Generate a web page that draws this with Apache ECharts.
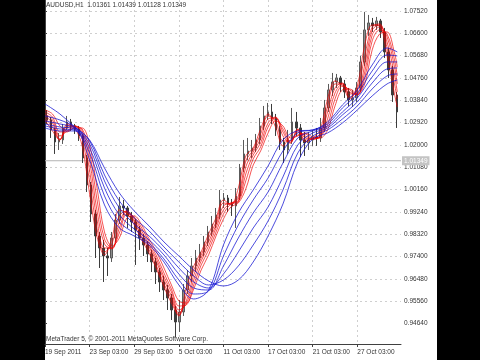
<!DOCTYPE html>
<html><head><meta charset="utf-8">
<script src="https://cdn.jsdelivr.net/npm/echarts@6/dist/echarts.min.js"></script>
<style>html,body{margin:0;padding:0;background:#000;}#c{width:480px;height:360px;}</style>
</head><body><div id="c"></div>
<script>
// ---- header / footer text ----
const titleSymbol = 'AUDUSD,H1';
const titleOHLC = [1.01361, 1.01439, 1.01128, 1.01349];
const lastPrice = 1.01349;
const copyrightText = 'MetaTrader 5, \u00a9 2001-2011 MetaQuotes Software Corp.';

// ---- axes (x in H1 bars from 19 Sep 2011 00:00) ----
const dateLabels = ['19 Sep 2011','23 Sep 03:00','29 Sep 03:00','5 Oct 03:00','11 Oct 03:00','17 Oct 03:00','21 Oct 03:00','27 Oct 03:00'];
const dateLabelBars = [0, 96, 192, 288, 384, 480, 576, 672];
const priceTicks = [0.94640,0.95560,0.96480,0.97400,0.98320,0.99240,1.00160,1.01080,1.02000,1.02920,1.03840,1.04760,1.05680,1.06600,1.07520];

// ---- candles (each candle groups ~8.65 H1 bars) ----
const candleBars = 8.65;
const candleOpen = [1.03194,1.03029,1.02617,1.02123,1.02205,1.02699,1.02947,1.02782,1.02658,1.02370,
1.01463,1.00351,0.99156,0.98250,0.97755,0.97426,0.97343,0.98167,0.98909,0.99486,
0.99403,0.99074,0.98827,0.98497,0.98167,0.97879,0.97508,0.97179,0.96767,0.96355,
0.96025,0.95695,0.95201,0.94707,0.95119,0.96025,0.96602,0.97014,0.97343,0.97591,
0.98003,0.98415,0.98744,0.99115,0.99733,0.99815,0.99568,0.99486,0.99898,1.01051,
1.01628,1.01752,1.01875,1.02205,1.02782,1.03194,1.03359,1.03111,1.02617,1.02123,
1.01793,1.02205,1.02947,1.02699,1.02205,1.02081,1.02205,1.02329,1.02287,1.02699,
1.03523,1.04265,1.04595,1.04759,1.04512,1.04183,1.03853,1.03935,1.04347,1.05419,
1.06737,1.07025,1.06902,1.07108,1.06655,1.05831,1.05089,1.04059];
const candleClose = [1.03029,1.02617,1.02123,1.02205,1.02699,1.02947,1.02782,1.02658,1.02370,1.01463,
1.00351,0.99156,0.98250,0.97755,0.97426,0.97343,0.98167,0.98909,0.99486,0.99403,
0.99074,0.98827,0.98497,0.98167,0.97879,0.97508,0.97179,0.96767,0.96355,0.96025,
0.95695,0.95201,0.94707,0.95119,0.96025,0.96602,0.97014,0.97343,0.97591,0.98003,
0.98415,0.98744,0.99115,0.99733,0.99815,0.99568,0.99486,0.99898,1.01051,1.01628,
1.01752,1.01875,1.02205,1.02782,1.03194,1.03359,1.03111,1.02617,1.02123,1.01793,
1.02205,1.02947,1.02699,1.02205,1.02081,1.02205,1.02329,1.02287,1.02699,1.03523,
1.04265,1.04595,1.04759,1.04512,1.04183,1.03853,1.03935,1.04347,1.05419,1.06737,
1.07025,1.06902,1.07108,1.06655,1.05831,1.05089,1.04059,1.03359];
const candleLow = [1.02864,1.02287,1.01628,1.01793,1.02040,1.02617,1.02576,1.02452,1.02164,1.01257,
1.00063,0.98827,0.97343,0.96931,0.96355,0.96602,0.97179,0.98003,0.98744,0.99115,
0.98579,0.98415,0.97055,0.97673,0.97426,0.97179,0.96767,0.96272,0.95943,0.95613,
0.95201,0.94789,0.94089,0.94295,0.94954,0.95860,0.96355,0.96767,0.97179,0.97426,
0.97838,0.98250,0.98579,0.98950,0.99403,0.99239,0.99074,0.98579,0.99733,1.00887,
1.01381,1.01463,1.01711,1.02040,1.02617,1.03029,1.02864,1.02370,1.01793,1.01257,
1.01628,1.02040,1.02370,1.01505,1.01546,1.01793,1.01958,1.01958,1.02123,1.02535,
1.03359,1.04018,1.04347,1.04183,1.03935,1.03606,1.03565,1.03771,1.04183,1.05254,
1.06490,1.06655,1.06737,1.06407,1.05583,1.04759,1.03771,1.02699];
const candleHigh = [1.03441,1.03153,1.02699,1.02493,1.02864,1.03194,1.03070,1.02864,1.02782,1.02452,
1.01587,1.00475,0.99321,0.98415,0.98085,0.97755,0.98415,0.99156,0.99857,0.99733,
0.99486,0.99239,0.98950,0.98662,0.98332,0.98044,0.97673,0.97343,0.96931,0.96602,
0.96231,0.95860,0.95366,0.95613,0.96272,0.96849,0.97343,0.97673,0.97920,0.98250,
0.98662,0.99074,0.99403,1.00145,1.00021,0.99939,0.99774,1.00227,1.01216,1.02205,
1.02287,1.02205,1.02452,1.03111,1.03606,1.03729,1.03688,1.03276,1.02782,1.02287,
1.02617,1.03523,1.03359,1.02864,1.02535,1.02535,1.02617,1.02699,1.03111,1.03853,
1.04512,1.04965,1.04924,1.04842,1.04677,1.04347,1.04265,1.04595,1.05666,1.07479,
1.07355,1.07231,1.07273,1.07190,1.06819,1.05995,1.05254,1.04183];

// ---- short-term (red) averages, sampled every 16 bars ----
const redBars = [0,16,32,48,64,80,96,112,128,144,160,176,192,208,224,240,256,272,288,304,320,336,352,368,384,400,416,432,448,464,480,496,512,528,544,560,576,592,608,624,640,656,672,688,704,720,736,752,758];
const red1 = [1.03029,1.02576,1.02205,1.02864,1.02699,1.01958,0.99980,0.98209,0.97467,0.98167,0.99321,0.99197,0.98703,0.98085,0.97549,0.96890,0.96149,0.95489,0.94995,0.96107,0.97014,0.97591,0.98332,0.98991,0.99733,0.99527,1.00227,1.01546,1.01875,1.02658,1.03276,1.02741,1.01958,1.02370,1.02617,1.02123,1.02287,1.02617,1.03894,1.04636,1.04430,1.03894,1.04430,1.06119,1.06943,1.06902,1.05666,1.04100,1.03565];
const red2 = [1.03111,1.02741,1.02205,1.02782,1.02741,1.02246,1.00475,0.98538,0.97591,0.97920,0.99074,0.99280,0.98827,0.98209,0.97673,0.97014,0.96272,0.95654,0.94954,0.95819,0.96849,0.97467,0.98167,0.98827,0.99609,0.99568,0.99898,1.01340,1.01793,1.02452,1.03194,1.02988,1.02164,1.02164,1.02658,1.02205,1.02246,1.02452,1.03606,1.04512,1.04512,1.03977,1.04265,1.05666,1.06861,1.06984,1.05995,1.04512,1.03894];
const red3 = [1.03194,1.02905,1.02246,1.02699,1.02782,1.02452,1.00928,0.98909,0.97755,0.97755,0.98827,0.99280,0.98909,0.98332,0.97797,0.97179,0.96437,0.95778,0.95077,0.95572,0.96643,0.97343,0.98003,0.98703,0.99486,0.99609,0.99774,1.01093,1.01711,1.02246,1.03070,1.03111,1.02370,1.02081,1.02617,1.02287,1.02246,1.02370,1.03359,1.04347,1.04553,1.04100,1.04141,1.05295,1.06737,1.06943,1.06243,1.04883,1.04183];
const red4 = [1.03276,1.03029,1.02370,1.02576,1.02782,1.02576,1.01340,0.99280,0.97920,0.97714,0.98579,0.99239,0.98991,0.98456,0.97879,0.97302,0.96561,0.95943,0.95201,0.95448,0.96437,0.97220,0.97838,0.98579,0.99321,0.99609,0.99692,1.00804,1.01587,1.02081,1.02905,1.03153,1.02535,1.02081,1.02535,1.02370,1.02246,1.02329,1.03070,1.04141,1.04512,1.04183,1.04059,1.05007,1.06531,1.06861,1.06449,1.05213,1.04512];
const red5 = [1.03359,1.03153,1.02535,1.02535,1.02741,1.02658,1.01669,0.99733,0.98126,0.97755,0.98373,0.99156,0.99033,0.98579,0.98003,0.97426,0.96725,0.96066,0.95366,0.95407,0.96231,0.97055,0.97673,0.98415,0.99156,0.99568,0.99651,1.00516,1.01422,1.01917,1.02741,1.03111,1.02658,1.02164,1.02411,1.02452,1.02246,1.02329,1.02823,1.03894,1.04430,1.04265,1.04059,1.04759,1.06284,1.06737,1.06572,1.05501,1.04842];
const red6 = [1.03441,1.03276,1.02782,1.02576,1.02699,1.02699,1.01999,1.00227,0.98415,0.97838,0.98167,0.98991,0.99074,0.98703,0.98126,0.97591,0.96931,0.96231,0.95572,0.95489,0.96066,0.96849,0.97467,0.98250,0.98950,0.99445,0.99609,1.00186,1.01175,1.01752,1.02493,1.02988,1.02782,1.02287,1.02370,1.02493,1.02329,1.02287,1.02617,1.03606,1.04265,1.04306,1.04100,1.04512,1.05913,1.06572,1.06655,1.05789,1.05213];

// ---- long-term (blue) averages, sampled every 32 bars ----
const blueBars = [0,32,64,96,128,160,192,224,256,288,320,352,384,416,448,480,512,544,576,608,640,672,704,736,758];
const blue1 = [1.02699,1.02576,1.02576,1.01381,0.99527,0.98579,0.98250,0.97879,0.97179,0.96231,0.95654,0.96025,0.97879,0.99197,1.00145,1.01134,1.02205,1.02576,1.02617,1.02947,1.03647,1.04265,1.05295,1.05995,1.05831];
const blue2 = [1.02782,1.02658,1.02617,1.01669,0.99898,0.98827,0.98373,0.97961,0.97302,0.96437,0.95860,0.95984,0.97426,0.98703,0.99733,1.00639,1.01752,1.02493,1.02617,1.02864,1.03523,1.04100,1.05048,1.05707,1.05666];
const blue3 = [1.02864,1.02741,1.02658,1.01875,1.00227,0.99115,0.98538,0.98085,0.97467,0.96684,0.96107,0.96025,0.97014,0.98167,0.99197,1.00063,1.01257,1.02287,1.02576,1.02782,1.03359,1.03935,1.04801,1.05419,1.05419];
const blue4 = [1.02988,1.02864,1.02699,1.02040,1.00516,0.99403,0.98744,0.98250,0.97632,0.96931,0.96355,0.96107,0.96684,0.97591,0.98579,0.99445,1.00681,1.01999,1.02493,1.02699,1.03235,1.03771,1.04553,1.05130,1.05171];
const blue5 = [1.03194,1.03029,1.02741,1.02164,1.00763,0.99692,0.98991,0.98456,0.97797,0.97179,0.96602,0.96231,0.96437,0.97014,0.97879,0.98868,1.00145,1.01669,1.02370,1.02617,1.03070,1.03606,1.04306,1.04842,1.04924];
const blue6 = [1.03688,1.03276,1.02741,1.02205,1.01051,1.00021,0.99280,0.98662,0.98003,0.97426,0.96849,0.96396,0.96190,0.96437,0.97179,0.98250,0.99568,1.01299,1.02246,1.02493,1.02905,1.03441,1.04018,1.04512,1.04677];

const FONT = 'Liberation Sans';
const chart = echarts.init(document.getElementById('c'), null, {renderer: 'canvas'});

const xMax = 766;
const candleData = candleOpen.map((o, i) => [(i + 0.5) * candleBars, o, candleClose[i], candleLow[i], candleHigh[i]]);
const lineSeries = (bars, vals, color, z) => ({
  type: 'line', xAxisIndex: 0, yAxisIndex: 0, data: bars.map((b, k) => [b, vals[k]]),
  showSymbol: false, smooth: 0.35, silent: true, z: z, animation: false,
  lineStyle: {color: color, width: 0.9}
});
const reds = [red1, red2, red3, red4, red5, red6];
const blues = [blue1, blue2, blue3, blue4, blue5, blue6];

const grid0Top = 0, grid0Bottom = 16;
const yMin = 0.9380, yMax = 1.0797;
const plotH = 360 - grid0Top - grid0Bottom;
const pxPer = plotH / (yMax - yMin);
const labMin = 0.9372, labMax = 1.0752;
const gridLine = {color: '#cfcfcf', type: [2, 3], width: 1};

const option = {
  backgroundColor: '#000',
  animation: false,
  graphic: [{type: 'rect', z: -100, silent: true, shape: {x: 45, y: 0, width: 392, height: 360}, style: {fill: '#fff'}}],
  title: [
    {text: titleSymbol + '  ' + titleOHLC.map(v => v.toFixed(5)).join(' '), left: 46, top: 2, padding: 0,
     textStyle: {fontSize: 6.5, fontWeight: 'normal', color: '#333', fontFamily: FONT}},
    {text: copyrightText, left: 46, top: 336, padding: 0,
     textStyle: {fontSize: 6.5, fontWeight: 'normal', color: '#333', fontFamily: FONT}}
  ],
  grid: [
    {left: 45, right: 79, top: grid0Top, bottom: grid0Bottom},
    {left: 45, right: 79, top: grid0Top + (yMax - labMax) * pxPer, bottom: 360 - (grid0Top + (yMax - labMin) * pxPer)}
  ],
  xAxis: [
    {gridIndex: 0, type: 'value', min: 0, max: xMax, interval: 48,
     axisLine: {show: true, onZero: false, lineStyle: {color: '#404040', width: 1}},
     axisTick: {show: true, customValues: dateLabelBars, length: 3, lineStyle: {color: '#404040'}},
     axisLabel: {show: true, customValues: dateLabelBars, align: 'left', margin: 5, fontSize: 6.5, color: '#333', fontFamily: FONT,
       formatter: v => { const k = dateLabelBars.indexOf(Math.round(v)); return k >= 0 ? dateLabels[k] : ''; }},
     splitLine: {show: true, lineStyle: gridLine}},
    {gridIndex: 1, type: 'value', min: 0, max: xMax, show: false}
  ],
  yAxis: [
    {gridIndex: 0, type: 'value', position: 'right', min: yMin, max: yMax,
     axisLine: {show: true, lineStyle: {color: '#404040', width: 1}},
     axisTick: {show: false}, axisLabel: {show: false}, splitLine: {show: false}},
    {gridIndex: 1, type: 'value', position: 'right', min: labMin, max: labMax, interval: 0.0092,
     axisLine: {show: false},
     axisTick: {show: true, customValues: priceTicks, length: 2, lineStyle: {color: '#404040'}},
     axisLabel: {show: true, customValues: priceTicks, margin: 3, fontSize: 6.5, color: '#333', fontFamily: FONT,
       formatter: v => v.toFixed(5)},
     splitLine: {show: true, showMinLine: false, lineStyle: gridLine}}
  ],
  series: [
    {type: 'line', xAxisIndex: 0, yAxisIndex: 0, z: 0, silent: true, showSymbol: false, animation: false,
     data: [[0, lastPrice], [xMax, lastPrice]],
     lineStyle: {color: '#b4b4b4', width: 1},
     endLabel: {show: true, distance: 1, formatter: () => lastPrice.toFixed(5), color: '#fff',
       backgroundColor: '#c4c4c4', padding: [1, 2, 1, 2], fontSize: 6.5, fontFamily: FONT}},
    {type: 'candlestick', xAxisIndex: 0, yAxisIndex: 0, data: candleData, barWidth: 2, z: 1, silent: true,
     itemStyle: {color: '#8c8c8c', color0: '#3c3c3c', borderColor: '#5a5a5a', borderColor0: '#3c3c3c', borderWidth: 1}},
    ...reds.map(r => lineSeries(redBars, r, 'rgba(240,0,0,0.75)', 3)),
    ...blues.map(b => lineSeries(blueBars, b, 'rgba(20,20,210,0.85)', 4))
  ]
};
chart.setOption(option);
</script></body></html>
